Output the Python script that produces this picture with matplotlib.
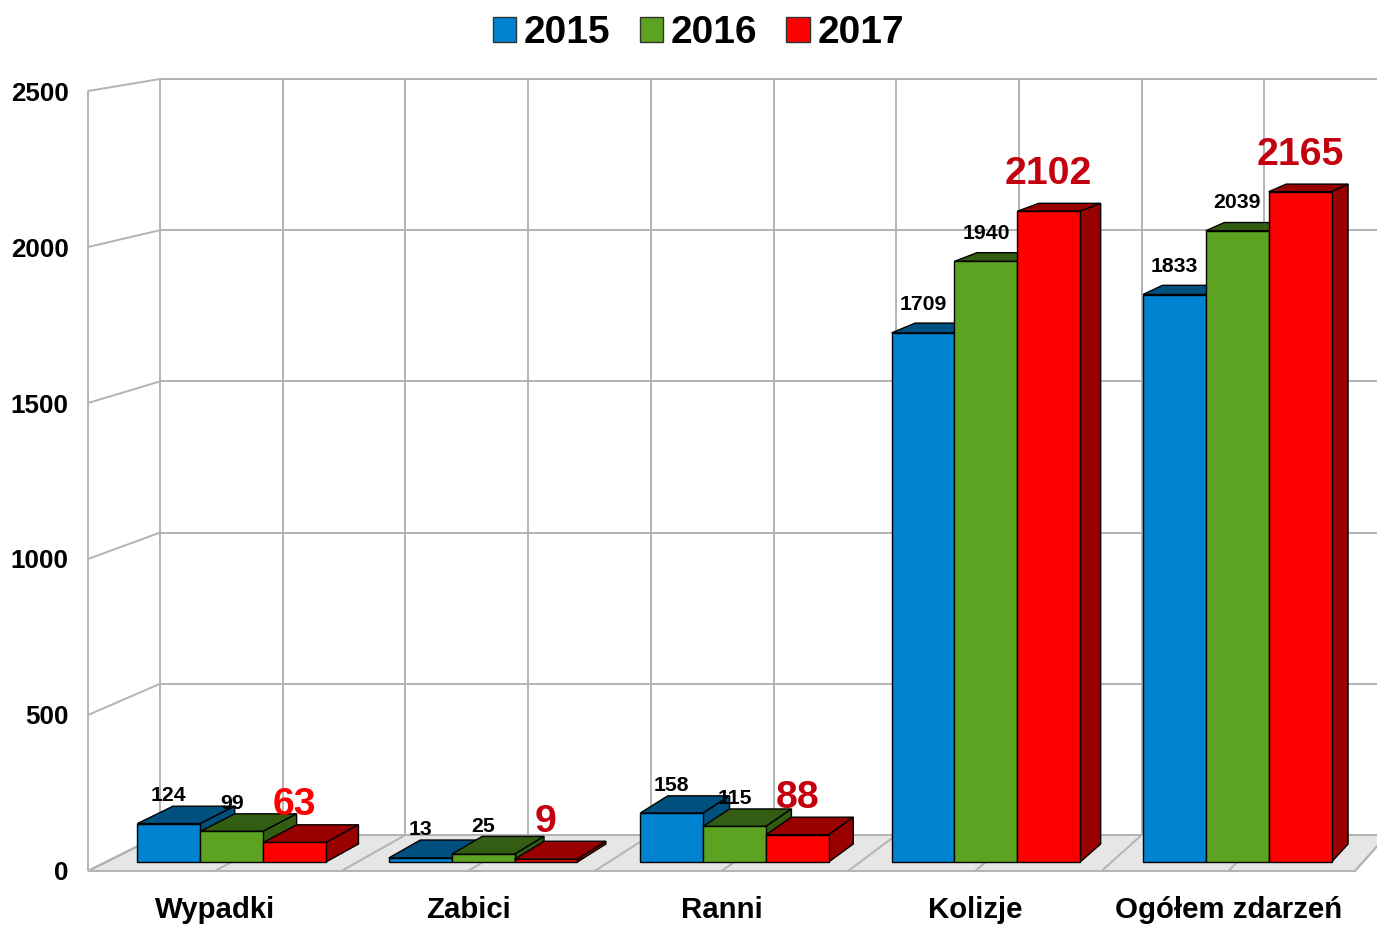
import numpy as np
import matplotlib
matplotlib.use('Agg')
import matplotlib.pyplot as plt
from matplotlib.patches import Polygon, Patch

plt.rcParams['font.family'] = ['Liberation Sans', 'DejaVu Sans']

categories = ['Wypadki', 'Zabici', 'Ranni', 'Kolizje', 'Ogółem zdarzeń']
years = ['2015', '2016', '2017']
v2015 = [124, 13, 158, 1709, 1833]
v2016 = [99, 25, 115, 1940, 2039]
v2017 = [63, 9, 88, 2102, 2165]
series = [v2015, v2016, v2017]
yticks = [0, 500, 1000, 1500, 2000, 2500]

front_colors = ['#0084d1', '#5ba321', '#ff0000']
shade_colors = ['#00507f', '#335d13', '#990000']
red_label_colors = ['#ff0000', '#c4000f', '#c4000f', '#c4000f', '#c4000f']

W, H = 1377, 926
YMAX = 2500
NCAT = len(categories)

# box geometry in pixels: front plane (depth 0) and back wall (depth 1)
FX0, FXW, FY0, FYS = 88, 253.4, 871, 0.312
BX0, BXW, BY0, BYS = 160, 245.4, 835, 0.3024
BAR_D0, BAR_D1 = 0.25, 0.75
BAR_W = 0.25


def to_px(c, v, d):
    x = (1 - d) * (FX0 + c * FXW) + d * (BX0 + c * BXW)
    y = (1 - d) * (FY0 - v * FYS) + d * (BY0 - v * BYS)
    return x, y


# data space of the axes = category units / values on the bars' front plane
PX0 = to_px(0, 0, BAR_D0)[0]
PSX = to_px(1, 0, BAR_D0)[0] - PX0
PY0 = to_px(0, 0, BAR_D0)[1]
PSY = PY0 - to_px(0, 1, BAR_D0)[1]


def P(c, v, d):
    x, y = to_px(c, v, d)
    return ((x - PX0) / PSX, (PY0 - y) / PSY)


fig = plt.figure(figsize=(W / 100, H / 100), dpi=100)
ax = fig.add_axes([0, 0, 1, 1])
ax.set_xlim(-PX0 / PSX, (W - PX0) / PSX)
ax.set_ylim((PY0 - H) / PSY, PY0 / PSY)
ax.axis('off')

grid_kw = dict(color='#b3b3b3', lw=1.4, zorder=2, solid_capstyle='butt')

# floor
floor = Polygon([P(0, 0, 0), P(NCAT, 0, 0), P(NCAT, 0, 1), P(0, 0, 1)],
                closed=True, facecolor='#e6e6e6', edgecolor='#b3b3b3', lw=1.4, zorder=1)
ax.add_patch(floor)
for c in np.arange(0, NCAT + 0.01, 0.5):
    ax.plot(*zip(P(c, 0, 0), P(c, 0, 1)), **grid_kw)
    ax.plot(*zip(P(c, 0, 1), P(c, YMAX, 1)), **grid_kw)

# horizontal gridlines on back and left walls
for v in yticks:
    ax.plot(*zip(P(0, v, 1), P(NCAT, v, 1)), **grid_kw)
    ax.plot(*zip(P(0, v, 0), P(0, v, 1)), **grid_kw)
    ax.annotate(str(v), xy=P(0, v, 0), xytext=(-14, 0), textcoords='offset points',
                ha='right', va='center_baseline', fontsize=18.7, fontweight='bold')
ax.plot(*zip(P(0, 0, 0), P(0, YMAX, 0)), **grid_kw)

# bars, drawn left to right so each one hides the previous side face
k = 0
for i in range(NCAT):
    for j, vals in enumerate(series):
        v = vals[i]
        cl = i + 0.125 + BAR_W * j
        cr = cl + BAR_W
        z = 10 + 3 * k
        top = Polygon([P(cl, v, BAR_D0), P(cr, v, BAR_D0), P(cr, v, BAR_D1), P(cl, v, BAR_D1)],
                      closed=True, facecolor=shade_colors[j], edgecolor='black', lw=1, zorder=z)
        side = Polygon([P(cr, 0, BAR_D0), P(cr, v, BAR_D0), P(cr, v, BAR_D1), P(cr, 0, BAR_D1)],
                       closed=True, facecolor=shade_colors[j], edgecolor='black', lw=1, zorder=z + 1)
        ax.add_patch(top)
        ax.add_patch(side)
        bar = ax.bar(cl + BAR_W / 2, v, width=BAR_W, color=front_colors[j],
                     edgecolor='black', lw=1, zorder=z + 2)
        if j == 2:
            ax.annotate(str(v), xy=(cl + BAR_W / 2, v), xytext=(0, 19.5), textcoords='offset points',
                        ha='center', va='baseline', fontsize=28.3, fontweight='bold',
                        color=red_label_colors[i], zorder=200)
        else:
            ax.annotate(str(v), xy=(cl + BAR_W / 2, v), xytext=(0, 16.2), textcoords='offset points',
                        ha='center', va='baseline', fontsize=15.3, fontweight='bold',
                        color='black', zorder=200)
        k += 1

# category labels under the floor
for i, name in enumerate(categories):
    ax.annotate(name, xy=P(i + 0.5, 0, 0), xytext=(0, -34), textcoords='offset points',
                ha='center', va='baseline', fontsize=21.2, fontweight='bold')

handles = [Patch(facecolor=col, edgecolor='#333333', lw=1) for col in front_colors]
fig.legend(handles, years, loc='center', bbox_to_anchor=(698.5 / W, 1 - 33 / H),
           ncol=3, frameon=False, prop=dict(size=28, weight='bold'),
           handlelength=0.6, handleheight=0.6, handletextpad=0.2, columnspacing=0.75)

fig.savefig('out.png', dpi=100)
